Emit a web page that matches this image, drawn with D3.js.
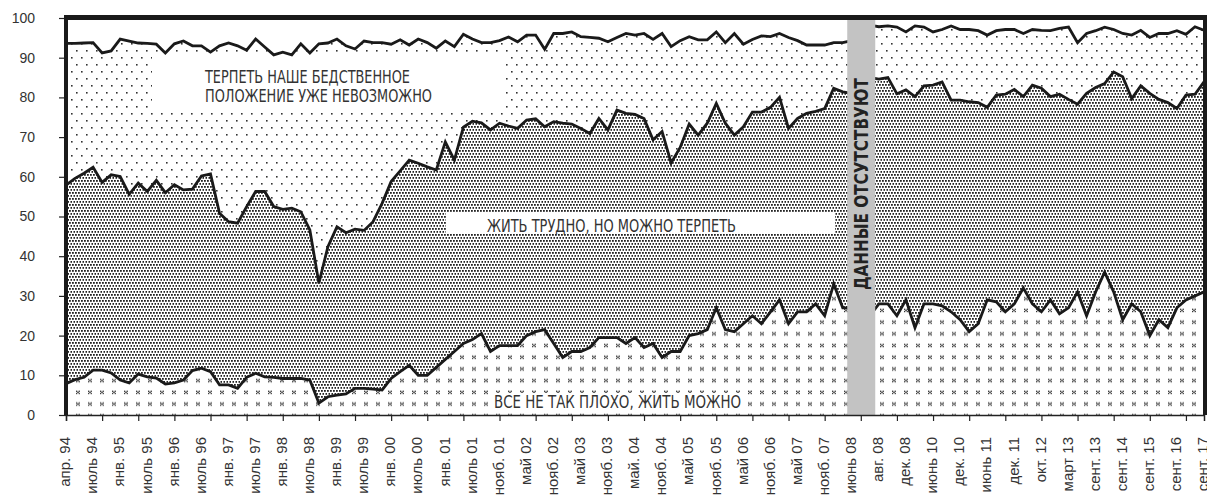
<!DOCTYPE html>
<html><head><meta charset="utf-8">
<script src="https://cdn.jsdelivr.net/npm/d3@7"></script>
<style>body{margin:0;background:#fff} svg{display:block}</style>
</head><body><svg id="c" width="1207" height="495"></svg>
<script>
// ---- data ----
const labels = ["апр. 94","июль 94","янв. 95","июль 95","янв. 96","июль 96","янв. 97","июль 97","янв. 98","июль 98","янв. 99","июль 99","янв. 00","июль 00","янв. 01","июль 01","нояб. 01","май 02","нояб. 02","май 03","нояб. 03","май. 04","нояб. 04","май 05","нояб. 05","май 06","нояб. 06","май 07","нояб. 07","июнь 08","авг. 08","дек. 08","июнь 10","дек. 10","июнь 11","дек. 11","окт. 12","март 13","сент. 13","сент. 14","сент. 15","сент. 16","сент. 17"];
// cumulative level: "всё не так плохо, жить можно"
const lineLow = [7.9,8.9,9.5,11.3,11.3,10.6,8.8,8.1,10.3,9.6,9.3,7.8,8.1,8.8,11.2,11.8,10.9,7.6,7.6,6.7,9.5,10.5,9.6,9.5,9.2,9.2,9.2,8.8,3.0,4.6,5.0,5.3,6.7,6.7,6.5,6.3,9.2,10.9,12.5,10,10,12,14,16,18,19,20.5,16,17.5,17.5,17.5,20,21,21.5,18,14.5,16,16,17,19.5,19.5,19.5,18,19.5,17,18,14.5,16,16,20,20.5,21.5,27,21.5,21,23,25,23,26,29,23,26,26,28,25,33,27,27,26,25,28,28,25,29,22,28,28,27.5,26,24,21,23,29,28.5,26,28,32,28,26,29,25.5,27,31,25,31,36,31,24,28,26,20,24,22,27,29,30,31];
// cumulative level: + "жить трудно, но можно терпеть"
const lineMid = [57.9,59.6,60.9,62.4,58.6,60.5,60.1,55.6,58.4,56.3,59.1,56.0,58.0,56.7,56.9,60.2,60.7,50.8,48.7,48.3,52.5,56.3,56.3,52.5,51.8,52.1,51.2,46.6,33.2,42.4,47.4,45.9,46.8,46.5,48.7,53.3,58.8,61.5,64.2,63.4,62.5,61.7,68.8,64.2,72.5,74.0,73.6,71.8,73.5,72.8,72.2,74.3,74.6,72.6,73.9,73.5,73.3,72.2,70.9,74.7,71.8,76.8,76.0,75.7,74.7,69.3,71.4,63.5,67.4,73.3,70.5,73.5,78.5,73.5,70.5,72.6,76.3,76.3,77.5,80.0,72.2,74.7,76.0,76.5,77.2,82.3,81.4,81.0,82.5,85.0,84.6,85.0,80.9,81.9,80.2,82.9,83.1,83.9,79.3,79.3,78.9,78.7,77.5,80.6,80.8,82.0,80.2,83.1,82.3,80.2,80.8,79.5,78.3,81.0,82.5,83.5,86.4,85.2,79.7,82.9,81.0,79.5,78.7,77.2,80.6,80.8,83.9];
// cumulative level: + "терпеть наше бедственное положение уже невозможно"
const lineTop = [93.6,93.6,93.7,93.8,91.2,91.7,94.7,94.2,93.7,93.6,93.4,91.2,93.5,94.2,93.0,93.0,91.4,93.0,93.7,93.0,91.9,94.7,92.7,90.7,91.4,90.7,93.5,91.2,93.5,93.7,94.7,93.0,92.2,94.2,93.8,93.8,93.4,94.5,93.2,94.7,93.8,92.4,94.2,92.8,95.9,94.7,93.8,93.8,94.3,95.2,94.0,95.7,95.7,92.1,96.1,96.1,96.5,95.3,95.1,94.9,94.0,95.1,96.1,95.7,96.1,94.6,96.1,92.8,94.3,95.3,94.5,94.5,96.5,93.8,96.1,93.4,94.6,95.5,95.3,96.1,95.1,94.3,93.2,93.2,93.2,93.8,93.8,94.3,96.0,98.2,97.8,98.0,97.7,96.5,98.0,97.7,96.5,97.1,98.0,97.1,97.1,96.8,95.7,96.8,97.1,97.1,96.1,97.1,96.9,96.8,97.4,97.7,93.8,96.1,96.8,97.7,97.1,96.1,95.7,96.9,95.1,96.1,96.1,96.8,95.9,97.8,96.9];
const yTicks = [0,10,20,30,40,50,60,70,80,90,100];
const gapRange = [86.5, 89.6];   // "no data" band, in category units
const labelEvery = 3, tickEvery = 4;

// ---- drawing ----
const svg = d3.select("#c");
const n = lineTop.length;
const x = d3.scaleLinear().domain([0, n - 1]).range([66, 1204]);
const y = d3.scaleLinear().domain([0, 100]).range([415, 18]);
const idx = d3.range(n);

const defs = svg.append("defs");
// sparse dots
const p1 = defs.append("pattern").attr("id","pSparse").attr("patternUnits","userSpaceOnUse")
  .attr("width",10).attr("height",14);
p1.append("rect").attr("width",10).attr("height",14).attr("fill","#fff");
p1.append("rect").attr("x",1).attr("y",1).attr("width",1.6).attr("height",1.6).attr("fill","#333");
p1.append("rect").attr("x",6).attr("y",8).attr("width",1.6).attr("height",1.6).attr("fill","#333");
// dense dots
const p2 = defs.append("pattern").attr("id","pDense").attr("patternUnits","userSpaceOnUse")
  .attr("width",3).attr("height",6);
p2.append("rect").attr("width",3).attr("height",6).attr("fill","#fff");
p2.append("rect").attr("x",0).attr("y",0).attr("width",1.8).attr("height",1.8).attr("fill","#222");
p2.append("rect").attr("x",1.5).attr("y",3).attr("width",1.8).attr("height",1.8).attr("fill","#222");
// small marks
const p3 = defs.append("pattern").attr("id","pMarks").attr("patternUnits","userSpaceOnUse")
  .attr("width",12).attr("height",11.7);
p3.append("rect").attr("width",12).attr("height",11.7).attr("fill","#fff");
const mk = p3.append("g").attr("fill","#333");
mk.append("rect").attr("x",4).attr("y",4.5).attr("width",1.3).attr("height",1.3);
mk.append("rect").attr("x",6.6).attr("y",4.5).attr("width",1.3).attr("height",1.3);
mk.append("rect").attr("x",5.2).attr("y",5.6).attr("width",1.6).attr("height",1.2);
mk.append("rect").attr("x",4).attr("y",6.7).attr("width",1.3).attr("height",1.3);
mk.append("rect").attr("x",6.6).attr("y",6.7).attr("width",1.3).attr("height",1.3);

const area = (lo, hi) => d3.area().x(i => x(i)).y0(i => y(lo(i))).y1(i => y(hi(i))).curve(d3.curveLinear);
svg.append("path").datum(idx).attr("fill","url(#pSparse)").attr("d", area(i=>lineMid[i], i=>lineTop[i]));
svg.append("path").datum(idx).attr("fill","url(#pDense)").attr("d", area(i=>lineLow[i], i=>lineMid[i]));
svg.append("path").datum(idx).attr("fill","url(#pMarks)").attr("d", area(i=>0, i=>lineLow[i]));

// annotation boxes + texts
const annFont = "'Liberation Sans Narrow','DejaVu Sans Condensed','Liberation Sans',Arial,sans-serif";
svg.append("rect").attr("x",152).attr("y",53).attr("width",353).attr("height",55).attr("fill","#fff");
svg.append("rect").attr("x",446).attr("y",212).attr("width",389).attr("height",22).attr("fill","#fff");
svg.append("rect").attr("x",488).attr("y",393).attr("width",260).attr("height",19).attr("fill","#fff");
const ann = [
  {t:"ТЕРПЕТЬ НАШЕ БЕДСТВЕННОЕ", x:205, y:83, w:205},
  {t:"ПОЛОЖЕНИЕ УЖЕ НЕВОЗМОЖНО", x:205, y:102, w:227},
  {t:"ЖИТЬ ТРУДНО, НО МОЖНО ТЕРПЕТЬ", x:487, y:232, w:249},
  {t:"ВСЕ НЕ ТАК ПЛОХО, ЖИТЬ МОЖНО", x:494, y:408, w:247}
];
svg.selectAll("text.ann").data(ann).join("text").attr("class","ann")
  .attr("x",d=>d.x).attr("y",d=>d.y).attr("textLength",d=>d.w).attr("lengthAdjust","spacingAndGlyphs")
  .attr("font-family",annFont).attr("font-size",18).attr("fill","#333").text(d=>d.t);

// lines
const line = acc => d3.line().x(i => x(i)).y(i => y(acc(i)));
[lineLow, lineMid, lineTop].forEach(arr => {
  svg.append("path").datum(idx).attr("fill","none").attr("stroke","#1a1a1a")
    .attr("stroke-width",2.8).attr("stroke-linejoin","miter").attr("d", line(i=>arr[i]));
});

// no-data band
svg.append("rect").attr("x",x(gapRange[0])).attr("y",y(100)).attr("width",x(gapRange[1])-x(gapRange[0]))
  .attr("height",y(0)-y(100)).attr("fill","#c3c3c3");
const bx = (x(gapRange[0])+x(gapRange[1]))/2;
svg.append("text").attr("transform",`translate(${bx+7},184) rotate(-90)`)
  .attr("text-anchor","middle").attr("textLength",212).attr("lengthAdjust","spacingAndGlyphs")
  .attr("font-family",annFont).attr("font-weight","bold").attr("font-size",19).attr("fill","#222")
  .text("ДАННЫЕ ОТСУТСТВУЮТ");

// y axis
const yAxis = d3.axisLeft(y).tickValues(yTicks).tickSize(7).tickPadding(24);
const gy = svg.append("g").attr("transform","translate(66,0)").call(yAxis);
gy.select(".domain").remove();
gy.selectAll("line").attr("stroke","#222").attr("stroke-width",1.2);
gy.selectAll("text").attr("font-family","'Liberation Sans',Arial,sans-serif").attr("font-size",14).attr("fill","#333");

// x axis
const xAxis = d3.axisBottom(x).tickValues(d3.range(0, n, tickEvery)).tickSize(6).tickFormat("");
const gx = svg.append("g").attr("transform","translate(0,415)").call(xAxis);
gx.select(".domain").attr("stroke","#222").attr("stroke-width",1.5);
gx.selectAll("line").attr("stroke","#222").attr("stroke-width",1.2);
svg.append("g").selectAll("text").data(labels).join("text")
  .attr("transform",(d,k)=>`translate(${x(k*labelEvery)-1},437) rotate(-90)`)
  .attr("text-anchor","end").attr("dy","0.35em")
  .attr("font-family","'Liberation Sans',Arial,sans-serif").attr("font-size",15).attr("fill","#333")
  .text(d=>d);

// frame
svg.append("line").attr("x1",66).attr("x2",66).attr("y1",y(100)-2).attr("y2",y(0)).attr("stroke","#1a1a1a").attr("stroke-width",4);
svg.append("line").attr("x1",64).attr("x2",1207).attr("y1",y(100)-0.5).attr("y2",y(100)-0.5).attr("stroke","#1a1a1a").attr("stroke-width",5);
svg.append("line").attr("x1",1205).attr("x2",1205).attr("y1",y(100)-2).attr("y2",y(0)).attr("stroke","#1a1a1a").attr("stroke-width",4);
</script></body></html>
